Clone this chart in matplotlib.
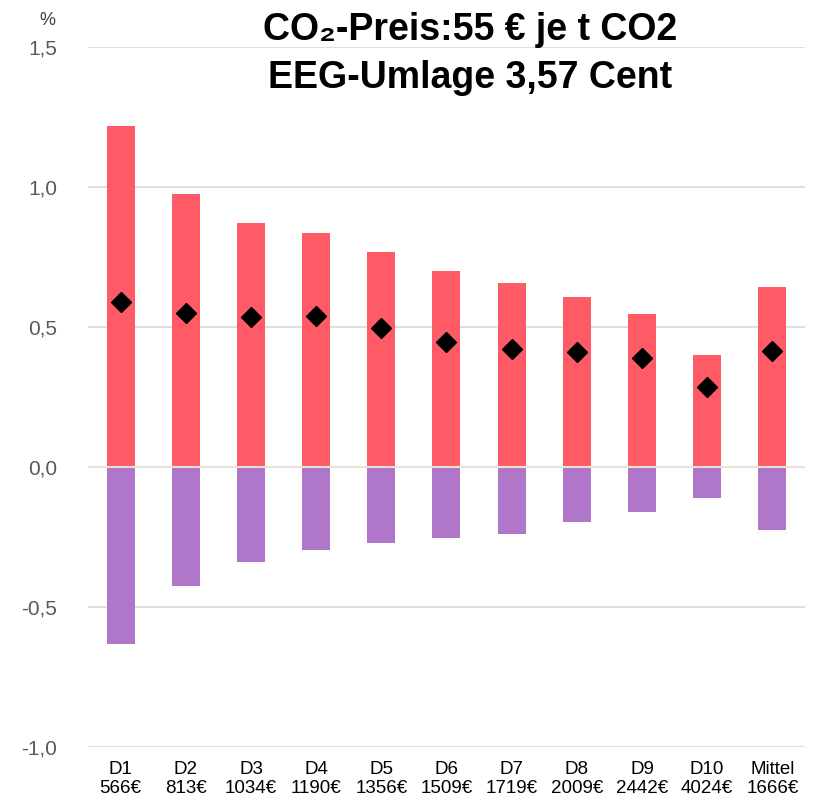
import matplotlib.pyplot as plt
import numpy as np

plt.rcParams['font.family'] = ['Liberation Sans', 'DejaVu Sans']

cats = ["D1", "D2", "D3", "D4", "D5", "D6", "D7", "D8", "D9", "D10", "Mittel"]
incomes = ["566€", "813€", "1034€", "1190€", "1356€", "1509€", "1719€", "2009€", "2442€", "4024€", "1666€"]
belastung = [1.218, 0.975, 0.871, 0.836, 0.768, 0.700, 0.657, 0.607, 0.546, 0.400, 0.643]
entlastung = [-0.632, -0.425, -0.339, -0.296, -0.271, -0.254, -0.239, -0.196, -0.161, -0.111, -0.225]
netto = [0.589, 0.550, 0.536, 0.539, 0.496, 0.446, 0.421, 0.411, 0.389, 0.286, 0.414]
yticks = [-1.0, -0.5, 0.0, 0.5, 1.0, 1.5]

x = np.arange(len(cats))

fig = plt.figure(figsize=(8.18, 8.01), dpi=100)
ax = fig.add_axes([0.1076, 0.0674, 0.8764, 0.8736])

ax.bar(x, belastung, width=0.43, color='#ff5b67', zorder=2)
ax.bar(x, entlastung, width=0.43, color='#b076c9', zorder=2)
ax.axhline(0, color='#e6e2d6', lw=1.5, zorder=3)
ax.plot(x, netto, linestyle='none', marker='D', color='black', markersize=10, zorder=4)

ax.set_ylim(-1.0, 1.5)
ax.set_xlim(-0.5, len(cats) - 0.5)
ax.set_yticks(yticks)
ax.set_yticklabels([f"{v:.1f}".replace('.', ',') for v in yticks], fontsize=15, color='#595959')
ax.set_xticks(x)
ax.set_xticklabels([f"{c}\n{i}" for c, i in zip(cats, incomes)], fontsize=13.5, color='black',
                   linespacing=1.15)
ax.tick_params(length=0, axis='y', pad=22)
ax.tick_params(length=0, axis='x', pad=10)
ax.grid(axis='y', color='#d9d9d9', lw=1.2, zorder=0)
ax.set_axisbelow(True)
for s in ax.spines.values():
    s.set_visible(False)

fig.text(0.058, 0.975, "%", fontsize=13, color='#404040', ha='center', va='center')
fig.text(0.575, 0.962, "CO₂-Preis:55 € je t CO2", fontsize=27, fontweight='bold',
         ha='center', va='center')
fig.text(0.575, 0.902, "EEG-Umlage 3,57 Cent", fontsize=27, fontweight='bold',
         ha='center', va='center')

fig.savefig("out.png", dpi=100)
